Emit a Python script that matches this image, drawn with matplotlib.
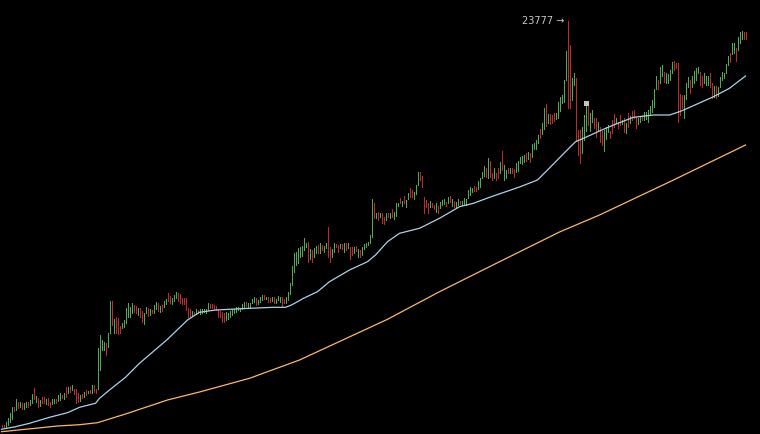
import matplotlib
matplotlib.use("Agg")
import matplotlib.pyplot as plt
import numpy as np

# bar lows / highs (price), one per bar
lows = [
    3465, 3465, 3465, 3580, 3745, 3865, 4295, 4330, 4415, 4495,
    4365, 4395, 4495, 4465, 4580, 4665, 4880, 4745, 4495, 4530,
    4695, 4665, 4630, 4580, 4465, 4630, 4665, 4695, 4795, 4830,
    4915, 4895, 4965, 5195, 5230, 5330, 5130, 4665, 4745, 4795,
    4915, 4965, 5095, 5165, 5165, 5165, 5245, 5195, 5395, 6330,
    7330, 7330, 7080, 7495, 8195, 8580, 8165, 8165, 8130, 8165,
    8415, 8495, 8695, 8995, 8965, 9165, 9245, 9165, 9080, 8965,
    8745, 8615, 9165, 9030, 9065, 9165, 9195, 9365, 9295, 9245,
    9295, 9465, 9630, 9765, 9695, 9630, 9795, 9915, 9795, 9665,
    9630, 9630, 9330, 8965, 8995, 9095, 9065, 9115, 9165, 9130,
    9195, 9230, 9195, 9330, 9415, 9415, 9395, 9330, 8995, 8995,
    8745, 8745, 8830, 8865, 8965, 9080, 9195, 9245, 9330, 9295,
    9395, 9465, 9530, 9495, 9480, 9665, 9745, 9580, 9630, 9745,
    9830, 9865, 9865, 9745, 9745, 9795, 9695, 9665, 9830, 9745,
    9465, 9665, 9695, 9830, 10130, 10580, 11245, 11580, 11665, 11995,
    12030, 12330, 12495, 11745, 11865, 11745, 11965, 12195, 12165, 12195,
    12330, 12245, 12415, 11995, 11745, 11995, 12245, 12465, 12245, 12415,
    12365, 12245, 12330, 12415, 11865, 12080, 12165, 12295, 11965, 11995,
    12080, 12365, 12465, 12580, 12695, 12980, 13930, 13915, 13830, 13995,
    13665, 13630, 13830, 13995, 13915, 13995, 13865, 14030, 14530, 14665,
    14530, 14695, 14495, 14865, 14965, 14995, 14865, 15130, 15580, 15830,
    15495, 14165, 14465, 14195, 14465, 14465, 14365, 14245, 14195, 14415,
    14580, 14630, 14530, 14665, 14745, 14530, 14495, 14465, 14580, 14630,
    14580, 14630, 14580, 14915, 15080, 15245, 15295, 15295, 15365, 15495,
    15915, 16030, 15980, 15915, 15995, 15830, 15915, 15830, 15915, 16165,
    16330, 15830, 15915, 16165, 16165, 16165, 15995, 16245, 16295, 16665,
    16630, 16745, 16795, 16865, 16745, 16995, 17365, 17365, 17665, 17915,
    18130, 18365, 18530, 18695, 18630, 18695, 18795, 18865, 18915, 19295,
    19665, 19745, 20830, 19415, 19415, 19830, 20580, 17830, 17080, 16665,
    17195, 17830, 18295, 18580, 18295, 18745, 18415, 17995, 18330, 17745,
    17580, 17295, 17865, 18245, 17915, 18165, 18495, 18665, 18415, 18580,
    18630, 18245, 18195, 18495, 18695, 18830, 18915, 18415, 18630, 18745,
    18830, 18830, 18865, 18745, 19080, 19245, 19495, 20365, 20365, 20665,
    21030, 20745, 20695, 20665, 20830, 21165, 21330, 21415, 18745, 19080,
    19415, 18915, 19865, 20465, 20165, 20465, 20695, 20830, 21165, 20580,
    20465, 20695, 20580, 20580, 20465, 19915, 19965, 19915, 20030, 20465,
    20830, 20915, 21195, 21580, 21745, 22130, 22165, 21795, 22330, 22695,
    22865, 22865, 22865,
]

highs = [
    3580, 3565, 3745, 3915, 4165, 4495, 4495, 4865, 4730, 4745,
    4695, 4665, 4745, 4745, 4830, 5115, 5430, 5030, 4915, 4830,
    4995, 4965, 4865, 4915, 4745, 4895, 4895, 4865, 5065, 5195,
    5065, 5195, 5465, 5495, 5530, 5565, 5395, 5395, 5165, 5065,
    5130, 5245, 5330, 5295, 5330, 5580, 5580, 5395, 7415, 8080,
    7830, 7745, 7665, 8195, 9780, 9780, 8865, 8995, 8915, 8530,
    8665, 8830, 9415, 9665, 9495, 9695, 9580, 9530, 9415, 9415,
    9295, 9165, 9495, 9415, 9365, 9330, 9580, 9745, 9665, 9530,
    9580, 9795, 9865, 10195, 10030, 9915, 10095, 10230, 10195, 10130,
    9915, 9915, 9915, 9415, 9365, 9295, 9245, 9365, 9330, 9365,
    9365, 9395, 9365, 9695, 9630, 9630, 9580, 9530, 9365, 9295,
    9245, 9195, 9245, 9165, 9295, 9365, 9365, 9465, 9495, 9415,
    9630, 9745, 9730, 9665, 9680, 9865, 9965, 9915, 9830, 9995,
    10065, 10080, 9995, 9965, 9915, 9995, 9965, 9865, 10030, 9995,
    9995, 9865, 9965, 10245, 10665, 11530, 12195, 12245, 12415, 12465,
    12530, 12915, 12695, 12745, 12365, 12330, 12415, 12530, 12580, 12695,
    12580, 12530, 12665, 13465, 12495, 12365, 12665, 12630, 12580, 12630,
    12630, 12665, 12665, 12665, 12495, 12495, 12495, 12530, 12365, 12330,
    12495, 12630, 12695, 12745, 13080, 14880, 14680, 14195, 14245, 14195,
    14165, 13995, 14165, 14195, 14165, 14365, 14245, 14665, 14695, 14915,
    14795, 15030, 14830, 15165, 15415, 15330, 15245, 15580, 16245, 16245,
    16030, 14995, 14830, 14665, 14795, 14695, 14580, 14665, 14530, 14745,
    14830, 14865, 14745, 14995, 15030, 14865, 14795, 14745, 14865, 14795,
    14795, 14915, 14865, 15330, 15495, 15415, 15530, 15465, 15795, 15915,
    16245, 16530, 16430, 16915, 16795, 16165, 16415, 16165, 16415, 16745,
    17280, 16580, 16330, 16415, 16415, 16415, 16365, 16665, 16795, 16995,
    17030, 17080, 17165, 17245, 17195, 17630, 17695, 17830, 18080, 18365,
    18695, 19415, 19630, 19130, 19130, 19080, 19165, 19195, 19745, 19995,
    20080, 20830, 22295, 23777, 22580, 20915, 21195, 20915, 18330, 18330,
    18495, 19080, 19665, 19580, 19195, 19330, 18915, 18915, 18745, 18495,
    18295, 18330, 18465, 18580, 18295, 18830, 19130, 18915, 18745, 19080,
    18830, 18915, 18665, 19165, 19030, 19295, 19330, 18995, 18915, 18995,
    19080, 19245, 19245, 19330, 19530, 19830, 20365, 21030, 20830, 21495,
    21580, 21245, 21165, 21130, 21330, 21745, 21795, 21665, 21665, 20130,
    20080, 20080, 20665, 20995, 20830, 21030, 21295, 21415, 21495, 21245,
    21030, 21195, 21030, 21030, 21195, 20665, 20530, 20530, 20465, 20965,
    21245, 21165, 21630, 22030, 22165, 22695, 22695, 22415, 22995, 23245,
    23295, 23245, 23245,
]

# G = up bar, R = down bar
direction = (
    "RRGGGGRGRG" "RGGRGGRGRG" "RRGRRGGRGG" "RGRGRGRRRG" "RGRGRGRRGG"
    "GGRGGRGRRR" "GGGGGGRRGR" "RGGRGRGGRG" "RGGRRGGGRR" "RRRRRGRGRG"
    "GGGGRRRRRR" "RRGGGGGGGG" "GGRGGGGRGG" "GRGRRGRGGG" "RRGGGGGGGG"
    "GGGRGRGGRG" "RGGRRGGRRG" "RGRGRRGRGR" "GGGGGGRGRG" "RRGRGRGGGR"
    "GRGGRRGGGR" "RRRRGRRGRG" "GGRGRGRGGR" "GGGGGGRRGG" "GGRGRRGRRG"
    "RGGRGRRGGG" "GGRGRGGGGR" "GGRGRRRGGG" "GGGRRGGRRR" "GGGRGGRRGR"
    "RGGGRRRGRR" "GRGRGRRRGG" "RGGGGGGGRG" "GRGGGGRRRR" "RGGGRGGGGR"
    "RGGGRRGRGG" "GGGGRGGRGG" "GRR"
)

# moving averages, read at selected bars
ma_fast_idx = [0, 7, 14, 24, 33, 39, 47, 49, 54, 62, 69, 83, 93, 99, 107, 124,
               136, 142, 145, 151, 158, 164, 174, 183, 187, 193, 199, 209, 219,
               229, 236, 244, 259, 268, 274, 282, 287, 291, 299, 306, 316, 326,
               334, 339, 343, 356, 364, 372]
ma_fast = [3365, 3495, 3665, 3965, 4195, 4465, 4665, 4915, 5330, 5965, 6665,
           7865, 8830, 9215, 9330, 9415, 9465, 9465, 9580, 9915, 10245, 10745,
           11330, 11745, 12080, 12745, 13165, 13415, 13915, 14495, 14665,
           14965, 15480, 15830, 16430, 17245, 17745, 17915, 18280, 18580,
           18965, 19080, 19080, 19245, 19415, 19995, 20415, 21030]

ma_slow_idx = [0, 7, 17, 28, 39, 48, 62, 83, 99, 124, 149, 193, 219, 244, 279,
               299, 336, 372]
ma_slow = [3245, 3315, 3415, 3530, 3595, 3695, 4130, 4830, 5230, 5915, 6830,
           8865, 10245, 11495, 13230, 14080, 15830, 17580]

peak_label = "23777 →"
marker_bar = 292

x = np.arange(len(lows))
colors = ['#4caf50' if d == 'G' else '#c62828' for d in direction]

fig = plt.figure(figsize=(7.6, 4.34), dpi=100)
fig.patch.set_facecolor('black')
ax = fig.add_axes([0, 0, 1, 1])
ax.set_facecolor('black')

# 1px wide bars, 2px apart
ax.vlines(x, lows, highs, colors=colors, linewidth=0.5, antialiased=False)
ax.plot(ma_slow_idx, ma_slow, color='#ffb56b', linewidth=0.9)
ax.plot(ma_fast_idx, ma_fast, color='#a9d3ea', linewidth=0.9)

ax.plot(marker_bar, highs[marker_bar], marker='s', markersize=3.6,
        color='#c4c4c4', markeredgewidth=0)

peak = int(np.argmax(highs))
ax.annotate(peak_label, xy=(peak, highs[peak]), xytext=(-2, 0),
            textcoords='offset points', ha='right', va='center',
            color='#c8c8c8', fontsize=7)

ax.set_xlim(-0.75, 379.25)
ax.set_ylim(3130, 24830)
ax.axis('off')

fig.savefig('out.png', dpi=100, facecolor='black')
